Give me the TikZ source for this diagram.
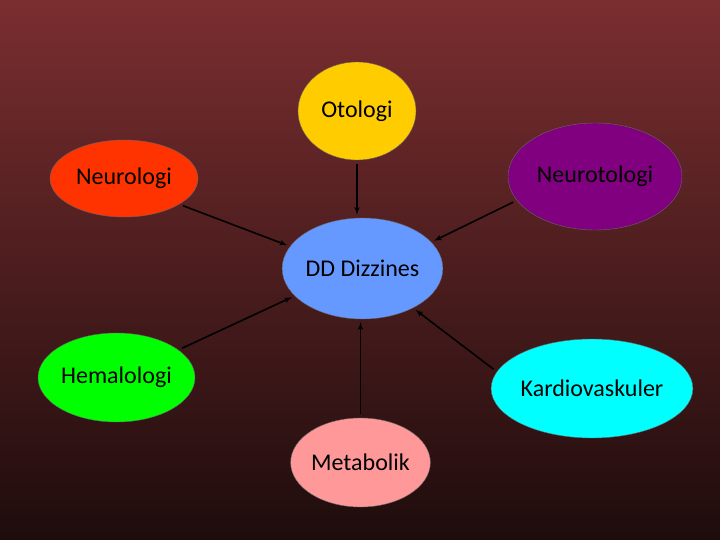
\documentclass[tikz,border=0pt]{standalone}
\usepackage{fontspec}
\setmainfont{Carlito}
\usetikzlibrary{shapes, arrows}

\definecolor{bgtop}{RGB}{122,46,48}
\definecolor{bgmid}{RGB}{60,23,23}
\definecolor{bgbot}{RGB}{30,12,12}

\begin{document}
\begin{tikzpicture}[x=1pt, y=-1pt, >=latex', font=\fontsize{24}{28}\selectfont,
  bubble/.style={draw=black!60, thin, ellipse, inner sep=0pt},
  link/.style={->, line width=1.6pt, shorten <=4pt, shorten >=3pt}]
  % Hintergrund
  \fill[top color=bgtop, middle color=bgmid, bottom color=bgbot] (0,0) rectangle (720,540);
  \useasboundingbox (0,0) rectangle (720,540);

  % Zentrum
  \node[bubble, fill={rgb,255:red,102;green,153;blue,255}, minimum width=151pt, minimum height=101pt] (dd) at (362.5,268.5) {DD Dizzines};

  % Fachgebiete rundherum
  \node[bubble, fill={rgb,255:red,255;green,204;blue,0}, minimum width=118pt, minimum height=98pt] (otologi) at (357,111) {Otologi};
  \node[bubble, fill={rgb,255:red,255;green,51;blue,0}, minimum width=148pt, minimum height=77pt] (neurologi) at (124,178.5) {Neurologi};
  \node[bubble, fill={rgb,255:red,128;green,0;blue,128}, minimum width=174pt, minimum height=107pt] (neurotologi) at (595,176.5) {Neurotologi};
  \node[bubble, fill={rgb,255:red,0;green,255;blue,0}, minimum width=157pt, minimum height=89pt] (hemalologi) at (116.5,377.5) {Hemalologi};
  \node[bubble, fill={rgb,255:red,0;green,255;blue,255}, minimum width=180pt, minimum height=99pt] (kardio) at (592,388.5) {Kardiovaskuler};
  \node[bubble, fill={rgb,255:red,255;green,153;blue,153}, minimum width=135pt, minimum height=89pt] (metabolik) at (360.5,462.5) {Metabolik};

  % Pfeile zum Zentrum
  \draw[link] (otologi.south) -- (otologi.south |- dd.north);
  \draw[link] (neurologi.-25) -- (dd.163);
  \draw[link] (neurotologi.197) -- (dd.21);
  \draw[link] (hemalologi.24) -- (dd.202);
  \draw[link] (metabolik.north) -- (metabolik.north |- dd.south);
  \draw[link] (kardio.170) -- (dd.-38);
\end{tikzpicture}
\end{document}
